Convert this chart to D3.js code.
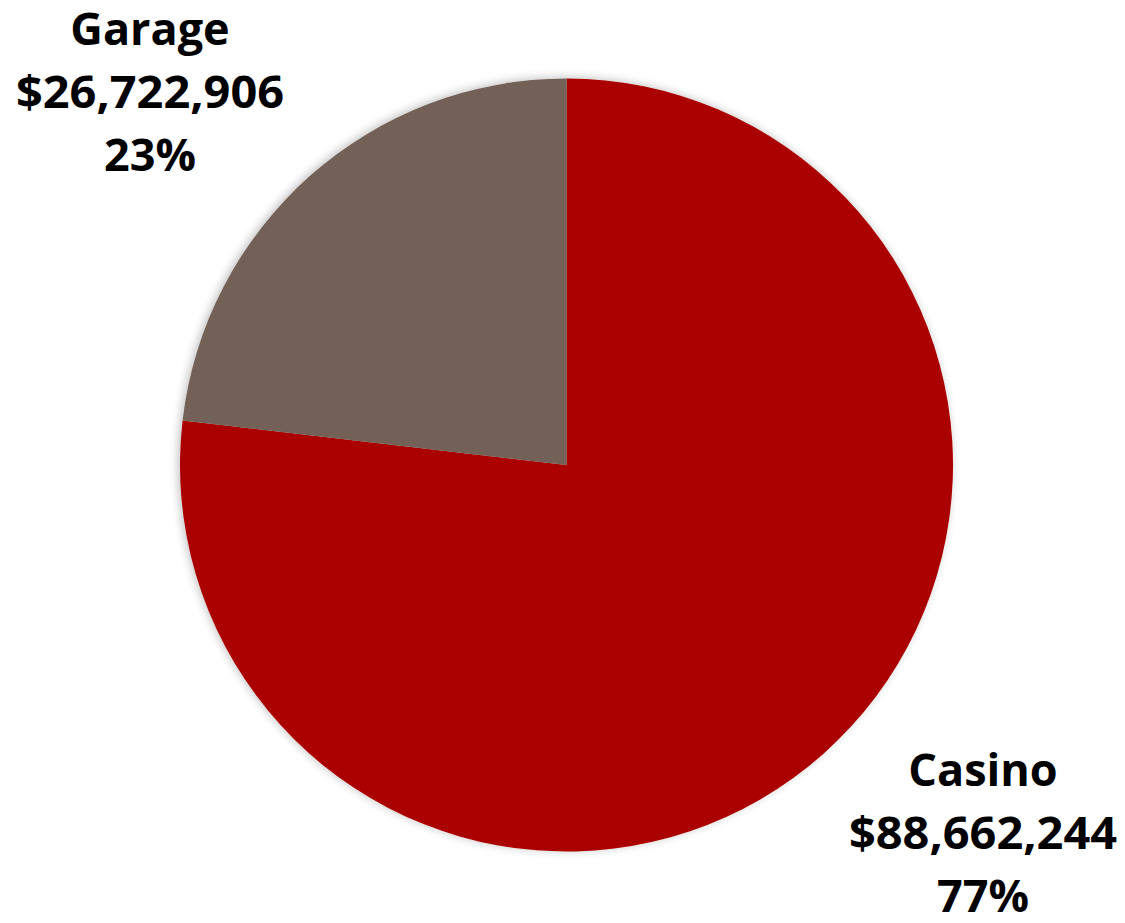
<!DOCTYPE html>
<html><head><meta charset="utf-8">
<script src="https://cdn.jsdelivr.net/npm/d3@7"></script>
<style>html,body{margin:0;padding:0;background:#fff;}svg{display:block;}</style>
</head><body>
<svg id="chart" width="1125" height="923"></svg>
<script>
const categories = ["Casino", "Garage"];
const values = [88662244, 26722906];
const valueLabels = ["$88,662,244", "$26,722,906"];
const percentLabels = ["77%", "23%"];
const colors = ["#aa0000", "#736056"];

const svg = d3.select("#chart");
const cx = 566.5, cy = 465, r = 386.5;

const defs = svg.append("defs");
const f = defs.append("filter").attr("id","sh").attr("x","-10%").attr("y","-10%").attr("width","120%").attr("height","120%");
f.append("feGaussianBlur").attr("in","SourceAlpha").attr("stdDeviation",5).attr("result","b");
f.append("feOffset").attr("in","b").attr("dx",-2).attr("dy",-1).attr("result","o");
f.append("feComponentTransfer").attr("in","o").attr("result","o2").append("feFuncA").attr("type","linear").attr("slope",0.25);
const m = f.append("feMerge"); m.append("feMergeNode").attr("in","o2"); m.append("feMergeNode").attr("in","SourceGraphic");

const pie = d3.pie().sort(null).value(d => d)(values);
const arc = d3.arc().innerRadius(0).outerRadius(r);

svg.append("g").attr("transform", `translate(${cx},${cy})`).attr("filter","url(#sh)")
  .selectAll("path").data(pie).join("path")
  .attr("d", arc).attr("fill", (d,i) => colors[i]);

const labelPos = [{x: 983, y: 786}, {x: 150, y: 45}];
const lh = 63;
categories.forEach((c, i) => {
  const t = svg.append("text")
    .attr("text-anchor","middle")
    .attr("font-family","'Open Sans', sans-serif")
    .attr("font-weight","bold")
    .attr("font-size", 45)
    .attr("fill","#000");
  [c, valueLabels[i], percentLabels[i]].forEach((s, k) => {
    const ts = t.append("tspan").attr("x", labelPos[i].x).attr("y", labelPos[i].y + k*lh).text(s);
    if (k === 1) ts.attr("textLength", 268).attr("lengthAdjust", "spacingAndGlyphs");
  });
});
</script>
</body></html>
